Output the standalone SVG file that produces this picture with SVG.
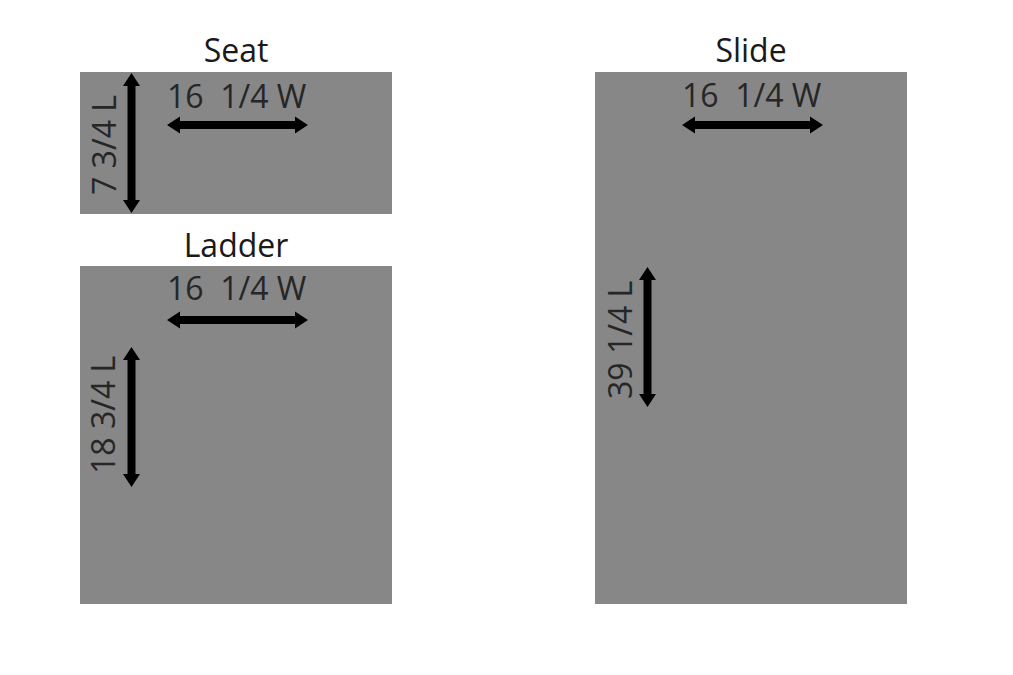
<svg xmlns="http://www.w3.org/2000/svg" width="1013" height="675" viewBox="0 0 1013 675">
<style>
.panel{fill:#878788}
.title{font-family:"Open Sans","Liberation Sans",sans-serif;font-size:32px;fill:#1a1a1a;text-anchor:middle}
.dim{font-family:"Open Sans","Liberation Sans",sans-serif;font-size:32px;fill:#262626;white-space:pre}
.arr{fill:#000}
</style>
<defs>
<path id="harr" d="M0,0 L13,-8.5 L13,-4 L128,-4 L128,-8.5 L141,0 L128,8.5 L128,4 L13,4 L13,8.5 Z"/>
<path id="varr" d="M0,0 L-8.5,13 L-4,13 L-4,127 L-8.5,127 L0,140 L8.5,127 L4,127 L4,13 L8.5,13 Z"/>
</defs>
<rect width="1013" height="675" fill="#fff"/>
<g id="seat">
<rect class="panel" x="80" y="72" width="312" height="142"/>
<text class="title" x="236" y="62">Seat</text>
<text class="dim" x="167" y="108" xml:space="preserve">16  1/4 W</text>
<text class="dim" transform="translate(116,195) rotate(-90)" xml:space="preserve">7 3/4 L</text>
</g>
<g id="ladder">
<rect class="panel" x="80" y="266" width="312" height="338"/>
<text class="title" x="236" y="257">Ladder</text>
<text class="dim" x="167" y="300" xml:space="preserve">16  1/4 W</text>
<text class="dim" transform="translate(115,474) rotate(-90)" xml:space="preserve">18 3/4 L</text>
</g>
<g id="slide">
<rect class="panel" x="595" y="72" width="312" height="532"/>
<text class="title" x="751" y="62">Slide</text>
<text class="dim" x="682" y="107" xml:space="preserve">16  1/4 W</text>
<text class="dim" transform="translate(632,399) rotate(-90)" xml:space="preserve">39 1/4 L</text>
</g>
<g id="connectors" class="arr">
<use href="#harr" x="167" y="125"/>
<use href="#varr" x="131.5" y="73"/>
<use href="#harr" x="167" y="320"/>
<use href="#varr" x="131.5" y="347"/>
<use href="#harr" x="682" y="125"/>
<use href="#varr" x="647.5" y="267"/>
</g>
</svg>
